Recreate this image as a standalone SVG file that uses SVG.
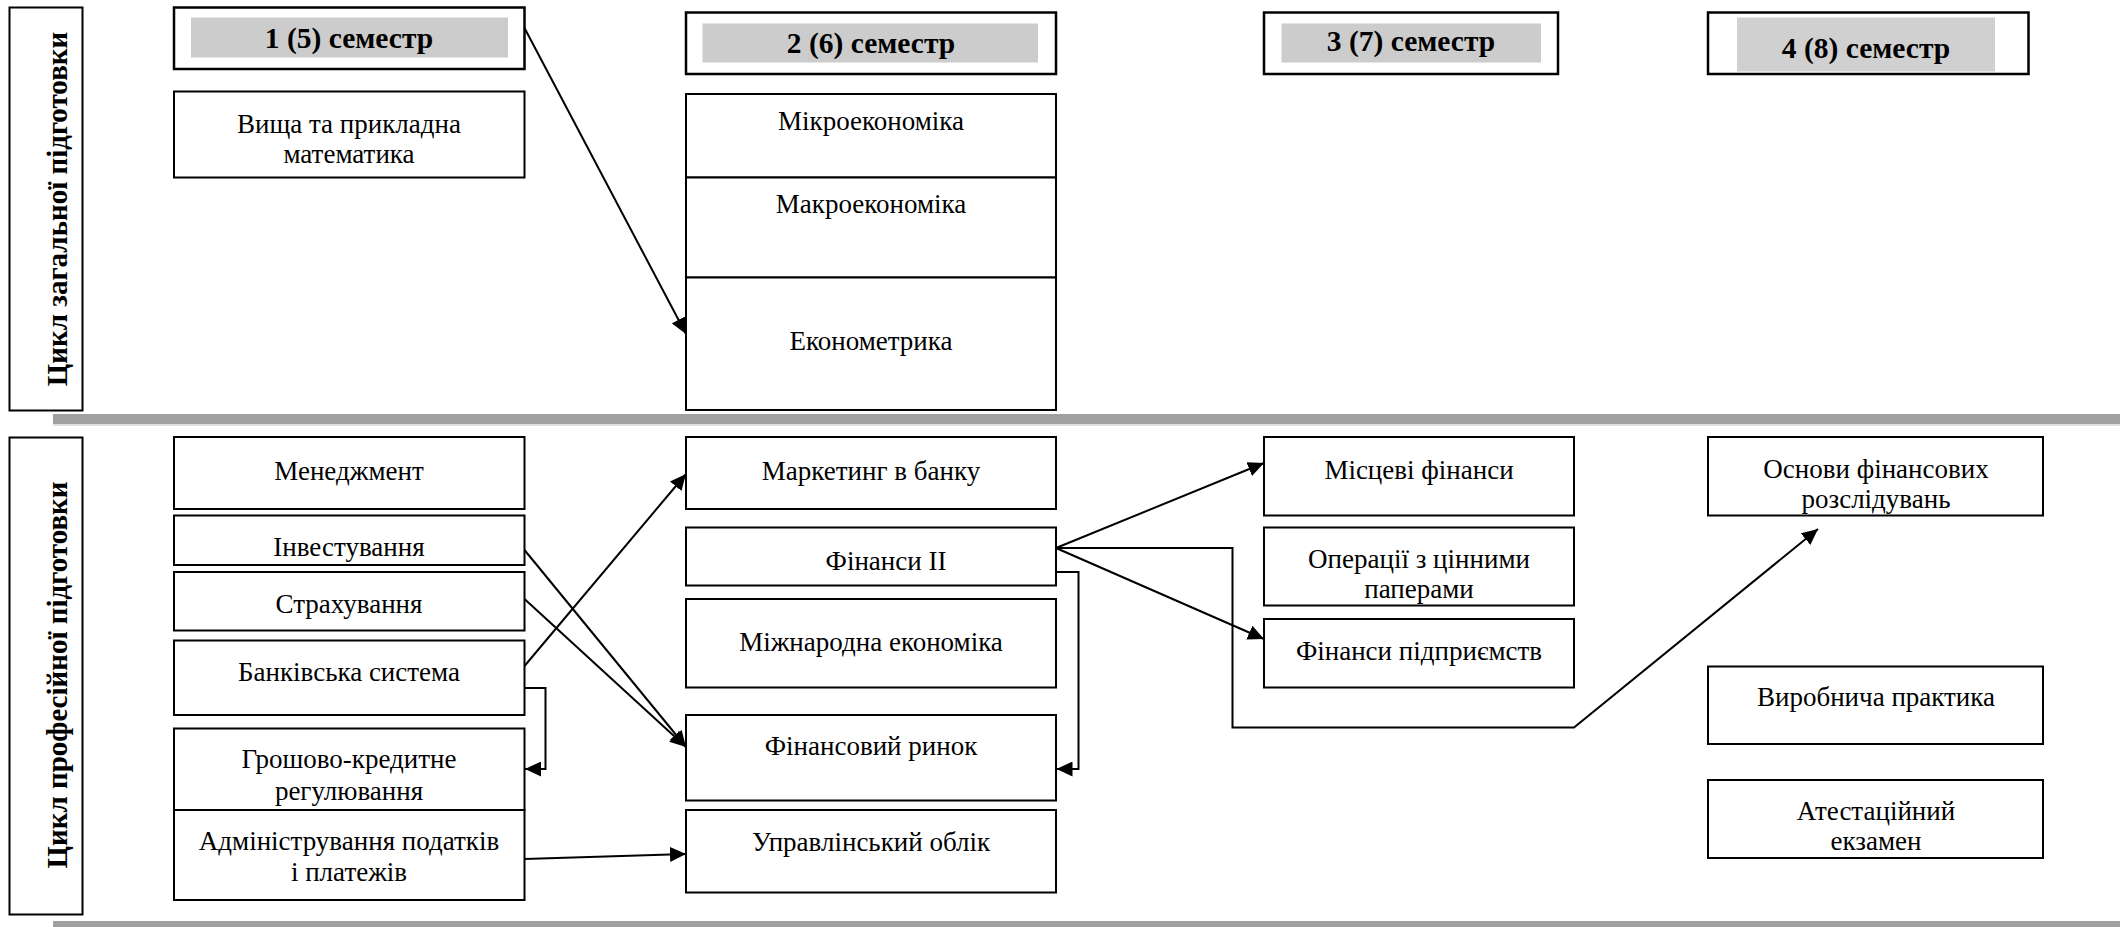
<svg xmlns="http://www.w3.org/2000/svg" width="2128" height="927" viewBox="0 0 2128 927">
<defs>
<style>
.box{fill:#fff;stroke:#000;stroke-width:2}
.hbox{fill:#fff;stroke:#000;stroke-width:2.5}
.hfill{fill:#cccccc}
.t{font-family:"Liberation Serif","Times New Roman",serif;font-size:27px;fill:#000;text-anchor:middle}
.h{font-family:"Liberation Serif","Times New Roman",serif;font-size:29.5px;font-weight:bold;fill:#000;text-anchor:middle}
.v{font-family:"Liberation Serif","Times New Roman",serif;font-size:29px;font-weight:bold;fill:#000;text-anchor:middle}
.c{fill:none;stroke:#000;stroke-width:2}
.sep{fill:#a0a0a0}
</style>
<marker id="ah" markerUnits="userSpaceOnUse" markerWidth="17" markerHeight="15" refX="16" refY="7.5" orient="auto">
<path d="M0,0 L16,7.5 L0,15 z" fill="#000"/>
</marker>
</defs>
<rect width="2128" height="927" fill="#fff"/>

<!-- separators -->
<rect class="sep" x="53" y="414" width="2067" height="10"/>
<rect x="53" y="424" width="2067" height="2" fill="#e0e0e0"/>
<rect class="sep" x="53" y="921" width="2067" height="6"/>

<!-- cycle labels -->
<g id="cycle-general">
<rect class="box" x="9.5" y="7.5" width="73" height="403"/>
<text class="v" transform="translate(67,209) rotate(-90)">Цикл загальної підготовки</text>
</g>
<g id="cycle-prof">
<rect class="box" x="9.5" y="437.5" width="73" height="477"/>
<text class="v" transform="translate(67,675) rotate(-90)">Цикл професійної підготовки</text>
</g>

<!-- semester headers -->
<g id="sem1">
<rect class="hbox" x="174" y="7.5" width="350.5" height="61.5"/>
<rect class="hfill" x="191" y="17.5" width="317" height="40"/>
<text class="h" x="349" y="48">1 (5) семестр</text>
</g>
<g id="sem2">
<rect class="hbox" x="686" y="12.5" width="370" height="61.5"/>
<rect class="hfill" x="702.5" y="23.5" width="335.5" height="39"/>
<text class="h" x="871" y="53">2 (6) семестр</text>
</g>
<g id="sem3">
<rect class="hbox" x="1264" y="12.5" width="294" height="61.5"/>
<rect class="hfill" x="1281.5" y="23.5" width="259.5" height="39"/>
<text class="h" x="1411" y="51">3 (7) семестр</text>
</g>
<g id="sem4">
<rect class="hbox" x="1708" y="12.5" width="320.5" height="61.5"/>
<rect x="1737" y="17.5" width="258" height="54" fill="#d0d0d0"/>
<text class="h" x="1866" y="58">4 (8) семестр</text>
</g>

<!-- general cycle subjects -->
<g id="vyshcha">
<rect class="box" x="174" y="91.5" width="350.5" height="86"/>
<text class="t" x="349" y="133">Вища та прикладна</text>
<text class="t" x="349" y="163">математика</text>
</g>
<g id="mikro">
<rect class="box" x="686" y="94" width="370" height="83.5"/>
<text class="t" x="871" y="130">Мікроекономіка</text>
</g>
<g id="makro">
<rect class="box" x="686" y="177.5" width="370" height="100"/>
<text class="t" x="871" y="213">Макроекономіка</text>
</g>
<g id="ekonometryka">
<rect class="box" x="686" y="277.5" width="370" height="132.5"/>
<text class="t" x="871" y="350">Економетрика</text>
</g>

<!-- professional cycle: column 1 -->
<g id="menedzhment">
<rect class="box" x="174" y="437" width="350.5" height="72"/>
<text class="t" x="349" y="480">Менеджмент</text>
</g>
<g id="investuvannia">
<rect class="box" x="174" y="515.5" width="350.5" height="49.5"/>
<text class="t" x="349" y="556">Інвестування</text>
</g>
<g id="strakhuvannia">
<rect class="box" x="174" y="572" width="350.5" height="58.5"/>
<text class="t" x="349" y="613">Страхування</text>
</g>
<g id="bankivska">
<rect class="box" x="174" y="640.5" width="350.5" height="74.5"/>
<text class="t" x="349" y="681">Банківська система</text>
</g>
<g id="hroshovo">
<rect class="box" x="174" y="728.5" width="350.5" height="81.5"/>
<text class="t" x="349" y="768">Грошово-кредитне</text>
<text class="t" x="349" y="800">регулювання</text>
</g>
<g id="administruvannia">
<rect class="box" x="174" y="810" width="350.5" height="90"/>
<text class="t" x="349" y="850">Адміністрування податків</text>
<text class="t" x="349" y="881">і платежів</text>
</g>

<!-- column 2 -->
<g id="marketynh">
<rect class="box" x="686" y="437" width="370" height="72"/>
<text class="t" x="871" y="480">Маркетинг в банку</text>
</g>
<g id="finansy2">
<rect class="box" x="686" y="527.5" width="370" height="58"/>
<text class="t" x="886" y="570">Фінанси II</text>
</g>
<g id="mizhnarodna">
<rect class="box" x="686" y="599" width="370" height="88.5"/>
<text class="t" x="871" y="651">Міжнародна економіка</text>
</g>
<g id="finrynok">
<rect class="box" x="686" y="715" width="370" height="85.5"/>
<text class="t" x="871" y="755">Фінансовий ринок</text>
</g>
<g id="upravlinskyi">
<rect class="box" x="686" y="810" width="370" height="82.5"/>
<text class="t" x="871" y="851">Управлінський облік</text>
</g>

<!-- column 3 -->
<g id="mistsevi">
<rect class="box" x="1264" y="437" width="310" height="78.5"/>
<text class="t" x="1419" y="479">Місцеві фінанси</text>
</g>
<g id="operatsii">
<rect class="box" x="1264" y="527.5" width="310" height="78"/>
<text class="t" x="1419" y="568">Операції з цінними</text>
<text class="t" x="1419" y="598">паперами</text>
</g>
<g id="finpidpr">
<rect class="box" x="1264" y="619" width="310" height="68.5"/>
<text class="t" x="1419" y="660">Фінанси підприємств</text>
</g>

<!-- column 4 -->
<g id="osnovy">
<rect class="box" x="1708" y="437" width="335" height="78.5"/>
<text class="t" x="1876" y="478">Основи фінансових</text>
<text class="t" x="1876" y="508">розслідувань</text>
</g>
<g id="vyrobnycha">
<rect class="box" x="1708" y="666.5" width="335" height="77.5"/>
<text class="t" x="1876" y="706">Виробнича практика</text>
</g>
<g id="atestatsiinyi">
<rect class="box" x="1708" y="780" width="335" height="78"/>
<text class="t" x="1876" y="820">Атестаційний</text>
<text class="t" x="1876" y="850">екзамен</text>
</g>

<!-- connectors -->
<g id="connectors">
<path class="c" marker-end="url(#ah)" d="M524.5,28 L686,334"/>
<path class="c" marker-end="url(#ah)" d="M524.5,550 L686,747"/>
<path class="c" marker-end="url(#ah)" d="M524.5,599 L686,747"/>
<path class="c" marker-end="url(#ah)" d="M524.5,666 L686,474"/>
<path class="c" marker-end="url(#ah)" d="M524.5,688 L545.5,688 L545.5,769 L525,769"/>
<path class="c" marker-end="url(#ah)" d="M524.5,859 L686,854"/>
<path class="c" marker-end="url(#ah)" d="M1056,548 L1264,463"/>
<path class="c" marker-end="url(#ah)" d="M1056,548 L1264,639"/>
<path class="c" marker-end="url(#ah)" d="M1056,548 L1232.5,548 L1232.5,727.5 L1574,727.5 L1818,529"/>
<path class="c" marker-end="url(#ah)" d="M1056,572 L1078.5,572 L1078.5,769 L1056.5,769"/>
</g>
</svg>
